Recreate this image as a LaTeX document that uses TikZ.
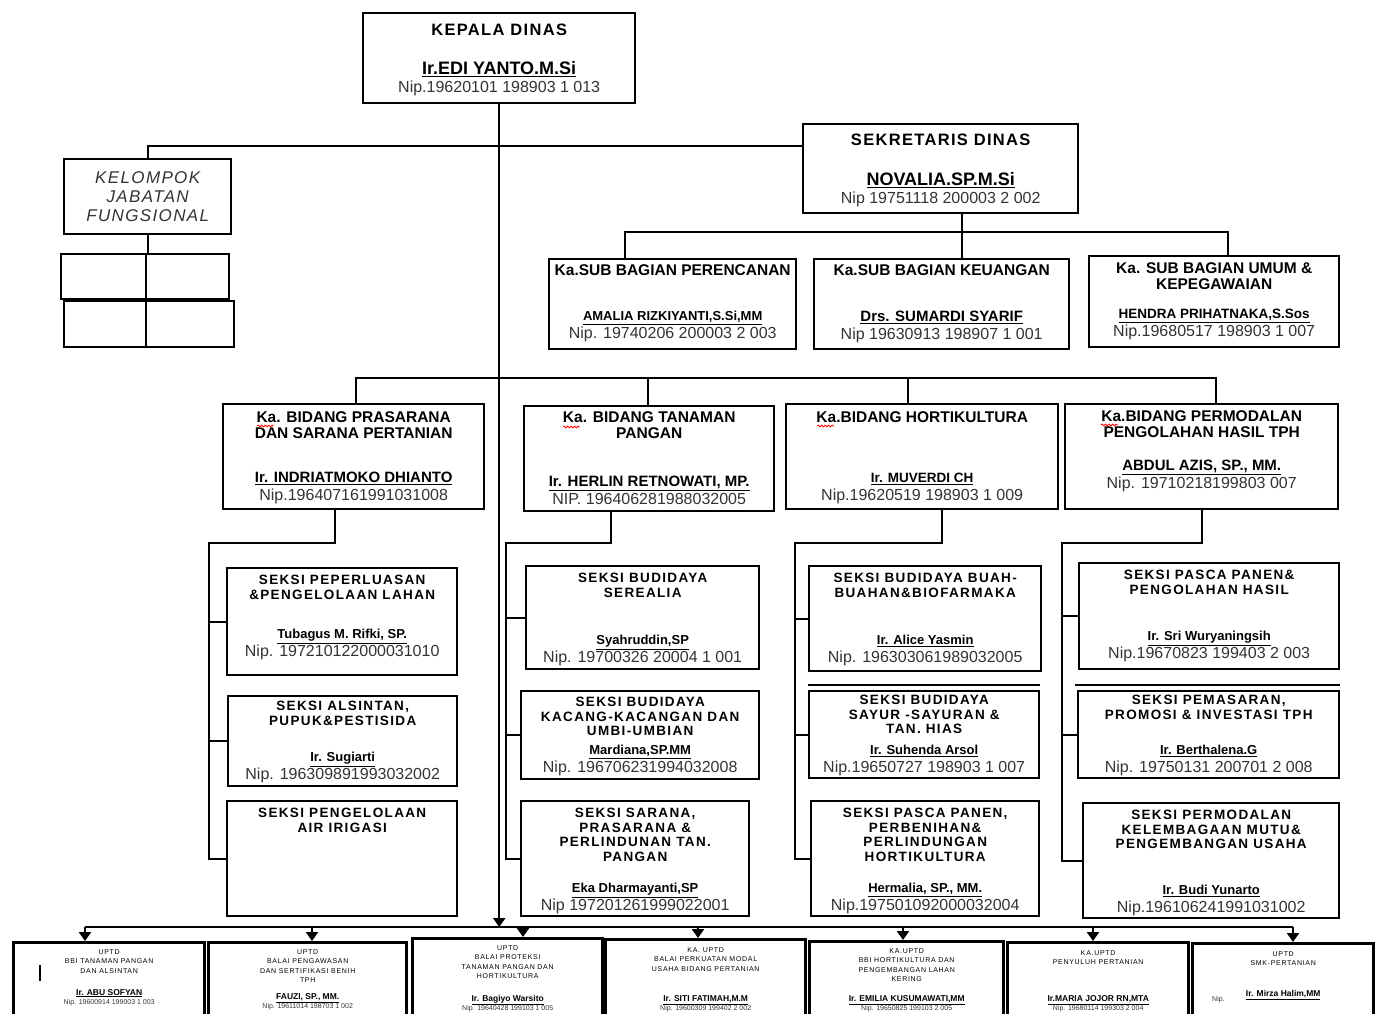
\documentclass[tikz,border=0pt]{standalone}
\usepackage{fontspec}
\setmainfont{Liberation Sans}
\newfontfamily\spacedfont[LetterSpace=8]{Liberation Sans}
\newfontfamily\widefont[LetterSpace=10]{Liberation Sans}
\usetikzlibrary{arrows.meta, positioning, decorations.pathmorphing}
\newcommand{\nama}[2]{{\color{black}\bfseries\fontsize{#1}{#1}\selectfont\underline{#2}}}

\begin{document}
\begin{tikzpicture}[x=1pt, y=-1pt,
    box/.style={rectangle, draw, line width=2.4pt, anchor=north west, inner sep=0pt},
    uptd/.style={box, line width=3.4pt, minimum height=100pt},
    head/.style={align=center, inner sep=0pt},
    headtop/.style={head, font=\spacedfont\bfseries\fontsize{16.5}{18}\selectfont},
    headsub/.style={head, font=\bfseries\fontsize{15.5}{16}\selectfont},
    headseksi/.style={head, font=\widefont\bfseries\fontsize{13.5}{14.5}\selectfont},
    headuptd/.style={head, font=\widefont\fontsize{7}{9.5}\selectfont},
    person/.style={align=center, inner sep=0pt, text=black!80, font=\fontsize{16}{18}\selectfont},
    persuptd/.style={person, font=\fontsize{7}{9}\selectfont},
    conn/.style={line width=2.4pt},
    sep/.style={line width=1.8pt},
    arr/.style={conn, -{Triangle[length=9pt, width=12pt]}},
    ejaan/.style={red, line width=0.8pt, decorate,
                  decoration={snake, amplitude=0.9pt, segment length=3.5pt}},
  ]
  \useasboundingbox (0,0) rectangle (1378,1014);
  \clip (0,0) rectangle (1378,1014);

  % pimpinan
  \node[box, minimum width=272pt, minimum height=90pt] (kepala) at (362,12) {};
  \node[headtop, below=12pt of kepala.north] (kepala-t) {KEPALA DINAS};
  \node[person, above=8pt of kepala.south] (kepala-p) {\nama{18}{Ir.EDI YANTO.M.Si}\\Nip.19620101 198903 1 013};

  \node[box, minimum width=275pt, minimum height=89pt] (sekretaris) at (802,123) {};
  \node[headtop, below=11pt of sekretaris.north] (sekretaris-t) {SEKRETARIS DINAS};
  \node[person, above=7pt of sekretaris.south] (sekretaris-p) {\nama{18}{NOVALIA.SP.M.Si}\\Nip 19751118 200003 2 002};

  % kelompok jabatan fungsional
  \node[box, minimum width=167pt, minimum height=75pt, align=center, text=black!80,
        font=\spacedfont\itshape\fontsize{17}{19}\selectfont] (kelompok) at (63,158) {KELOMPOK\\JABATAN\\FUNGSIONAL};
  \node[box, minimum width=85pt, minimum height=45pt] (g11) at (60,253) {};
  \node[box, minimum width=83pt, minimum height=45pt] (g12) at (145,253) {};
  \node[box, minimum width=82pt, minimum height=46pt] (g21) at (63,300) {};
  \node[box, minimum width=88pt, minimum height=46pt] (g22) at (145,300) {};

  % sub bagian
  \node[box, minimum width=247pt, minimum height=90pt] (subA) at (548,258) {};
  \node[headsub, below=6.5pt of subA.north] (subA-t) {Ka.SUB BAGIAN PERENCANAN};
  \node[person, above=8pt of subA.south] (subA-p) {\nama{13}{AMALIA RIZKIYANTI,S.Si,MM}\\Nip. 19740206 200003 2 003};

  \node[box, minimum width=255pt, minimum height=90pt] (subB) at (813,258) {};
  \node[headsub, below=6.5pt of subB.north] (subB-t) {Ka.SUB BAGIAN KEUANGAN};
  \node[person, above=7pt of subB.south] (subB-p) {\nama{15}{Drs. SUMARDI SYARIF}\\Nip 19630913 198907 1 001};

  \node[box, minimum width=250pt, minimum height=91pt] (subC) at (1088,255) {};
  \node[headsub, below=7.5pt of subC.north] (subC-t) {Ka. SUB BAGIAN UMUM \&\\KEPEGAWAIAN};
  \node[person, above=8pt of subC.south] (subC-p) {\nama{13.5}{HENDRA PRIHATNAKA,S.Sos}\\Nip.19680517 198903 1 007};

  % bidang
  \node[box, minimum width=261pt, minimum height=105pt] (b1) at (222,403) {};
  \node[headsub, below=8.5pt of b1.north] (b1-t) {Ka. BIDANG PRASARANA\\DAN SARANA PERTANIAN};
  \node[person, above=6pt of b1.south] (b1-p) {\nama{15}{Ir. INDRIATMOKO DHIANTO}\\Nip.196407161991031008};

  \node[box, minimum width=250pt, minimum height=105pt] (b2) at (523,405) {};
  \node[headsub, below=6.5pt of b2.north] (b2-t) {Ka. BIDANG TANAMAN\\PANGAN};
  \node[person, above=8pt of b2.south] (b2-p) {\nama{15}{Ir. HERLIN RETNOWATI, MP.}\\NIP. 196406281988032005};

  \node[box, minimum width=272pt, minimum height=105pt] (b3) at (785,403) {};
  \node[headsub, below=8.5pt of b3.north] (b3-t) {Ka.BIDANG HORTIKULTURA};
  \node[person, above=6pt of b3.south] (b3-p) {\nama{13.5}{Ir. MUVERDI CH}\\Nip.19620519 198903 1 009};

  \node[box, minimum width=273pt, minimum height=105pt] (b4) at (1064,403) {};
  \node[headsub, below=7.5pt of b4.north] (b4-t) {Ka.BIDANG PERMODALAN\\PENGOLAHAN HASIL TPH};
  \node[person, above=18pt of b4.south] (b4-p) {\nama{15}{ABDUL AZIS, SP., MM.}\\Nip. 19710218199803 007};

  % tanda ejaan di bawah "Ka"
  \draw[ejaan] (257,426) -- (274,426);
  \draw[ejaan] (563,427) -- (580,427);
  \draw[ejaan] (817,426) -- (834,426);
  \draw[ejaan] (1101,425) -- (1118,425);

  % seksi bidang prasarana
  \node[box, minimum width=230pt, minimum height=107pt] (s1a) at (226,567) {};
  \node[headseksi, below=8pt of s1a.north] (s1a-t) {SEKSI PEPERLUASAN\\\&PENGELOLAAN LAHAN};
  \node[person, above=16pt of s1a.south] (s1a-p) {\nama{13}{Tubagus M. Rifki, SP.}\\Nip. 197210122000031010};

  \node[box, minimum width=229pt, minimum height=90pt] (s1b) at (227,695) {};
  \node[headseksi, below=6pt of s1b.north] (s1b-t) {SEKSI ALSINTAN,\\PUPUK\&PESTISIDA};
  \node[person, above=4pt of s1b.south] (s1b-p) {\nama{13}{Ir. Sugiarti}\\Nip. 196309891993032002};

  \node[box, minimum width=230pt, minimum height=115pt] (s1c) at (226,800) {};
  \node[headseksi, below=8pt of s1c.north] (s1c-t) {SEKSI PENGELOLAAN\\AIR IRIGASI};

  % seksi bidang tanaman pangan
  \node[box, minimum width=233pt, minimum height=103pt] (s2a) at (525,565) {};
  \node[headseksi, below=8pt of s2a.north] (s2a-t) {SEKSI BUDIDAYA\\SEREALIA};
  \node[person, above=4pt of s2a.south] (s2a-p) {\nama{13}{Syahruddin,SP}\\Nip. 19700326 20004 1 001};

  \node[box, minimum width=238pt, minimum height=88pt] (s2b) at (520,690) {};
  \node[headseksi, below=7pt of s2b.north] (s2b-t) {SEKSI BUDIDAYA\\KACANG-KACANGAN DAN\\UMBI-UMBIAN};
  \node[person, above=4pt of s2b.south] (s2b-p) {\nama{13}{Mardiana,SP.MM}\\Nip. 196706231994032008};

  \node[box, minimum width=228pt, minimum height=115pt] (s2c) at (520,800) {};
  \node[headseksi, below=8pt of s2c.north] (s2c-t) {SEKSI SARANA,\\PRASARANA \&\\PERLINDUNAN TAN.\\PANGAN};
  \node[person, above=3pt of s2c.south] (s2c-p) {\nama{13}{Eka Dharmayanti,SP}\\Nip 197201261999022001};

  % seksi bidang hortikultura
  \node[box, minimum width=232pt, minimum height=105pt] (s3a) at (808,565) {};
  \node[headseksi, below=8pt of s3a.north] (s3a-t) {SEKSI BUDIDAYA BUAH-\\BUAHAN\&BIOFARMAKA};
  \node[person, above=6pt of s3a.south] (s3a-p) {\nama{13}{Ir. Alice Yasmin}\\Nip. 196303061989032005};

  \node[box, minimum width=230pt, minimum height=87pt] (s3b) at (808,690) {};
  \node[headseksi, below=5pt of s3b.north] (s3b-t) {SEKSI BUDIDAYA\\SAYUR -SAYURAN \&\\TAN. HIAS};
  \node[person, above=3pt of s3b.south] (s3b-p) {\nama{13}{Ir. Suhenda Arsol}\\Nip.19650727 198903 1 007};

  \node[box, minimum width=228pt, minimum height=115pt] (s3c) at (810,800) {};
  \node[headseksi, below=8pt of s3c.north] (s3c-t) {SEKSI PASCA PANEN,\\PERBENIHAN\&\\PERLINDUNGAN\\HORTIKULTURA};
  \node[person, above=3pt of s3c.south] (s3c-p) {\nama{13}{Hermalia, SP., MM.}\\Nip.197501092000032004};

  % seksi bidang permodalan
  \node[box, minimum width=260pt, minimum height=106pt] (s4a) at (1078,562) {};
  \node[headseksi, below=8pt of s4a.north] (s4a-t) {SEKSI PASCA PANEN\&\\PENGOLAHAN HASIL};
  \node[person, above=8pt of s4a.south] (s4a-p) {\nama{13}{Ir. Sri Wuryaningsih}\\Nip.19670823 199403 2 003};

  \node[box, minimum width=261pt, minimum height=87pt] (s4b) at (1077,690) {};
  \node[headseksi, below=5pt of s4b.north] (s4b-t) {SEKSI PEMASARAN,\\PROMOSI \& INVESTASI TPH};
  \node[person, above=3pt of s4b.south] (s4b-p) {\nama{13}{Ir. Berthalena.G}\\Nip. 19750131 200701 2 008};

  \node[box, minimum width=256pt, minimum height=115pt] (s4c) at (1082,802) {};
  \node[headseksi, below=8pt of s4c.north] (s4c-t) {SEKSI PERMODALAN\\KELEMBAGAAN MUTU\&\\PENGEMBANGAN USAHA};
  \node[person, above=3pt of s4c.south] (s4c-p) {\nama{13}{Ir. Budi Yunarto}\\Nip.196106241991031002};

  % uptd
  \node[uptd, minimum width=191pt] (u1) at (12,941) {};
  \node[headuptd, below=8pt of u1.north] (u1-t) {UPTD\\BBI TANAMAN PANGAN\\DAN ALSINTAN};
  \node[persuptd, below=48pt of u1.north] (u1-p) {\nama{8.5}{Ir. ABU SOFYAN}\\Nip. 19600914 199003 1 003};

  \node[uptd, minimum width=198pt] (u2) at (207,941) {};
  \node[headuptd, below=8pt of u2.north] (u2-t) {UPTD\\BALAI PENGAWASAN\\DAN SERTIFIKASI BENIH\\TPH};
  \node[persuptd, below=52pt of u2.north] (u2-p) {\nama{8.5}{FAUZI, SP., MM.}\\Nip. 19611014 198703 1 002};

  \node[uptd, minimum width=190pt] (u3) at (411,937) {};
  \node[headuptd, below=8pt of u3.north] (u3-t) {UPTD\\BALAI PROTEKSI\\TANAMAN PANGAN DAN\\HORTIKULTURA};
  \node[persuptd, below=58pt of u3.north] (u3-p) {\nama{8.5}{Ir. Bagiyo Warsito}\\Nip. 19640428 199103 1 005};

  \node[uptd, minimum width=200pt] (u4) at (604,938) {};
  \node[headuptd, below=9pt of u4.north] (u4-t) {KA. UPTD\\BALAI PERKUATAN MODAL\\USAHA BIDANG PERTANIAN};
  \node[persuptd, below=57pt of u4.north] (u4-p) {\nama{8.5}{Ir. SITI FATIMAH,M.M}\\Nip. 19600309 199402 2 002};

  \node[uptd, minimum width=194pt] (u5) at (808,940) {};
  \node[headuptd, below=8pt of u5.north] (u5-t) {KA.UPTD\\BBI HORTIKULTURA DAN\\PENGEMBANGAN LAHAN\\KERING};
  \node[persuptd, below=55pt of u5.north] (u5-p) {\nama{8.5}{Ir. EMILIA KUSUMAWATI,MM}\\Nip. 19650825 199103 2 005};

  \node[uptd, minimum width=181pt] (u6) at (1006,941) {};
  \node[headuptd, below=9pt of u6.north] (u6-t) {KA.UPTD\\PENYULUH PERTANIAN};
  \node[persuptd, below=54pt of u6.north] (u6-p) {\nama{8.5}{Ir.MARIA JOJOR RN,MTA}\\Nip. 19680114 199303 2 004};

  \node[uptd, minimum width=181pt] (u7) at (1191,942) {};
  \node[headuptd, below=9pt of u7.north] (u7-t) {UPTD\\SMK-PERTANIAN};
  \node[persuptd, below=48pt of u7.north] (u7-p) {\nama{8.5}{Ir. Mirza Halim,MM}};
  \node[persuptd, anchor=west] (u7-n) at (1212,1000) {Nip.};
  \draw[line width=2.5pt] (40,965) -- (40,981);

  % garis komando utama
  \coordinate (topbus) at (802,146);
  \draw[conn] (kelompok.north) |- (topbus);
  \draw[conn] (kelompok.south) -- (kelompok.south |- g11.north);

  \coordinate (sbA) at (625,232);
  \coordinate (sbB) at (962,232);
  \coordinate (sbC) at (1228,232);
  \draw[conn] (sekretaris.south -| sbB) -- (sbB |- subB.north);
  \draw[conn] (sbA |- subA.north) -- (sbA) -- (sbC) -- (sbC |- subC.north);

  \coordinate (bdA) at (356,378);
  \coordinate (bdB) at (648,378);
  \coordinate (bdC) at (908,378);
  \coordinate (bdD) at (1216,378);
  \draw[conn] (bdA |- b1.north) -- (bdA) -- (bdD) -- (bdD |- b4.north);
  \draw[conn] (bdB) -- (bdB |- b2.north);
  \draw[conn] (bdC) -- (bdC |- b3.north);

  % bidang ke seksi
  \coordinate (k1) at (209,543);
  \coordinate (k2) at (506,543);
  \coordinate (k3) at (795,543);
  \coordinate (k4) at (1062,543);
  \draw[conn] ([xshift=-19pt]b1.south) |- (k1) |- (s1c.west);
  \draw[conn] (k1 |- s1a.west) -- (s1a.west);
  \draw[conn] (k1 |- s1b.west) -- (s1b.west);
  \draw[conn] ([xshift=-38pt]b2.south) |- (k2) |- (s2c.west);
  \draw[conn] (k2 |- s2a.west) -- (s2a.west);
  \draw[conn] (k2 |- s2b.west) -- (s2b.west);
  \draw[conn] ([xshift=20pt]b3.south) |- (k3) |- (s3c.west);
  \draw[conn] (k3 |- s3a.west) -- (s3a.west);
  \draw[conn] (k3 |- s3b.west) -- (s3b.west);
  \draw[conn] (b4.south) |- (k4) |- (s4c.west);
  \draw[conn] (k4 |- s4a.west) -- (s4a.west);
  \draw[conn] (k4 |- s4b.west) -- (s4b.west);
  \draw[sep] (808,685) -- (1040,685);
  \draw[sep] (1075,685) -- (1340,685);

  % ke uptd
  \coordinate (d1) at (85,927);
  \coordinate (d2) at (312,927);
  \coordinate (d3) at (523,927);
  \coordinate (d4) at (698,927);
  \coordinate (d5) at (903,927);
  \coordinate (d6) at (1093,927);
  \coordinate (d7) at (1293,927);
  \draw[arr] (kepala.south) -- (kepala.south |- d1);
  \draw[conn] (d1) -- (d7);
  \foreach \i in {1,...,7}
    \draw[arr] (d\i) -- (d\i |- u\i.north);

\end{tikzpicture}
\end{document}
